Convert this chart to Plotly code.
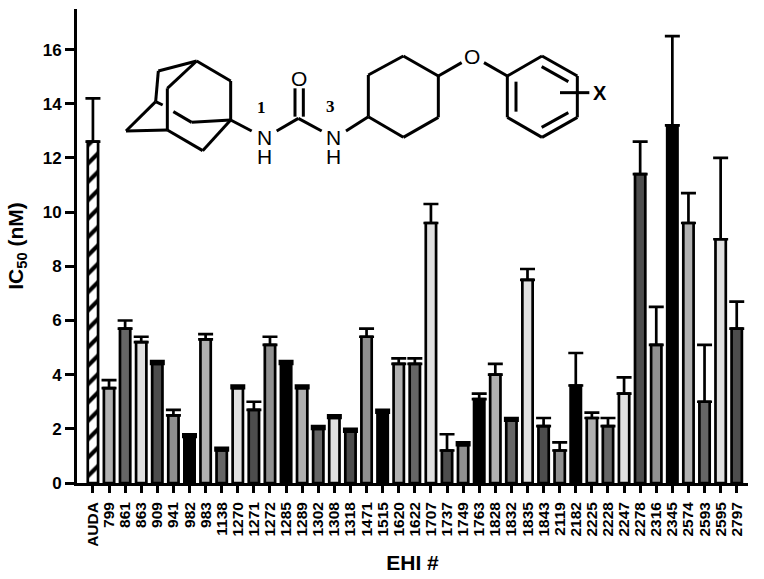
import plotly.graph_objects as go

compounds = ["AUDA","799","861","863","909","941","982","983","1138","1270","1271","1272","1285","1289",
             "1302","1308","1318","1471","1515","1620","1622","1707","1737","1749","1763","1828","1832",
             "1835","1843","2119","2182","2225","2228","2247","2278","2316","2345","2574","2593","2595","2797"]
ic50 = [12.6,3.5,5.7,5.2,4.4,2.5,1.7,5.3,1.2,3.5,2.7,5.1,4.4,3.5,2.0,2.4,1.9,5.4,2.6,4.4,4.4,9.6,1.2,1.4,
        3.1,4.0,2.3,7.5,2.1,1.2,3.6,2.4,2.1,3.3,11.4,5.1,13.2,9.6,3.0,9.0,5.7]
err = [1.6,0.3,0.3,0.2,0.1,0.2,0.1,0.2,0.1,0.1,0.3,0.3,0.1,0.1,0.1,0.1,0.1,0.3,0.1,0.2,0.2,0.7,0.6,0.1,
       0.2,0.4,0.1,0.4,0.3,0.3,1.2,0.2,0.3,0.6,1.2,1.4,3.3,1.1,2.1,3.0,1.0]
grey_cycle = ["#b0b0b0","#666666","#e0e0e0","#4d4d4d","#909090","#000000"]
y_ticks = [0,2,4,6,8,10,12,14,16]

W, H = 764, 579
L, R, T, B = 77, 16, 9, 96

colors = [grey_cycle[i % 6] for i in range(len(compounds) - 1)]

fig = go.Figure()
fig.add_bar(
    x=compounds[:1], y=ic50[:1], width=0.64,
    marker=dict(color="#ffffff", line=dict(color="#000000", width=2.7),
                pattern=dict(shape="/", fgcolor="#000000", fgopacity=1, bgcolor="#ffffff",
                             size=13, solidity=0.32, fillmode="overlay")),
    error_y=dict(type="data", symmetric=False, array=err[:1], arrayminus=[0],
                 color="#000000", thickness=2.7, width=7.5),
)
fig.add_bar(
    x=compounds[1:], y=ic50[1:], width=0.64,
    marker=dict(color=colors, line=dict(color="#000000", width=2.7)),
    error_y=dict(type="data", symmetric=False, array=err[1:], arrayminus=[0]*(len(err)-1),
                 color="#000000", thickness=2.7, width=7.5),
)

def zx(v): return (110 + v / 3 - L) / (W - L - R)
def zy(v): return 1 - (20 + v / 3 - T) / (H - T - B)

bonds = [
    (260,123,362,183),(362,183,362,300),(260,123,145,153),(145,153,137,245),(137,245,48,333),
    (48,333,172,330),(172,330,172,205),(172,205,260,123),(172,330,278,392),(278,392,362,300),
    (137,245,158,255),(190,275,245,307),(245,307,362,300),(362,300,425,333),
    (500,333,565,295),(565,295,635,333),(555,205,555,290),(580,205,580,290),
    (708,333,775,290),(775,290,775,165),(775,165,880,108),(880,108,985,168),(985,168,985,292),
    (985,292,880,352),(880,352,775,290),(985,168,1055,128),(1122,128,1192,168),
    (1192,168,1296,108),(1296,108,1402,168),(1402,168,1402,292),(1402,292,1296,352),
    (1296,352,1192,292),(1192,292,1192,168),(1218,185,1218,275),(1295,140,1375,185),
    (1295,322,1375,278),(1350,218,1438,218),
]
shapes = [dict(type="line", xref="paper", yref="paper", x0=zx(a), y0=zy(b), x1=zx(c), y1=zy(d),
               line=dict(color="#000000", width=3)) for a, b, c, d in bonds]

atoms = [("O",1087,108),("O",567,175),("N",462,352),("H",462,408),("N",670,352),("H",670,408),("X",1470,218)]
annotations = [dict(text=t, xref="paper", yref="paper", x=zx(a), y=zy(b), showarrow=False,
                    xanchor="center", yanchor="middle", borderpad=0, height=18,
                    font=dict(family="Liberation Sans", size=21, color="#000000")) for t, a, b in atoms]
annotations[-1]["font"] = dict(family="Liberation Sans", size=20, color="#000000", weight="bold")
for t, a, b in [("1",455,262),("3",662,260)]:
    annotations.append(dict(text="<b>%s</b>" % t, xref="paper", yref="paper", x=zx(a), y=zy(b), showarrow=False,
                            xanchor="center", yanchor="middle",
                            font=dict(family="Liberation Serif", size=17, color="#000000")))

fig.update_layout(
    width=W, height=H, autosize=False, showlegend=False, barmode="overlay",
    margin=dict(l=L, r=R, t=T, b=B, pad=0, autoexpand=False),
    paper_bgcolor="#ffffff", plot_bgcolor="#ffffff",
    font=dict(family="Liberation Sans", color="#000000"),
    shapes=shapes, annotations=annotations,
    xaxis=dict(type="category", categoryorder="array", categoryarray=compounds,
               tickmode="array", tickvals=compounds, ticktext=compounds,
               range=[-0.99, 40.7], tickangle=-90, ticks="outside", ticklen=7, tickwidth=2.7,
               tickcolor="#000000", showline=True, linecolor="#000000", linewidth=2.7,
               tickfont=dict(size=15.5, family="Liberation Sans", weight="bold"),
               ticklabelstandoff=3, automargin=False,
               showgrid=False, zeroline=False,
               title=dict(text="<b>EHI #</b>", font=dict(size=21), standoff=10)),
    yaxis=dict(range=[0, 17.5], tickvals=y_ticks, ticks="outside", ticklen=9, tickwidth=2.7,
               tickcolor="#000000", showline=True, linecolor="#000000", linewidth=2.7,
               tickfont=dict(size=17, family="Liberation Sans", weight="bold"),
               automargin=False, showgrid=False, zeroline=False,
               title=dict(text="<b>IC<sub>50</sub> (nM)</b>", font=dict(size=21), standoff=14)),
)
fig.write_html("out.html", post_script="document.body.style.margin='0';",
               config={"displayModeBar": False})
